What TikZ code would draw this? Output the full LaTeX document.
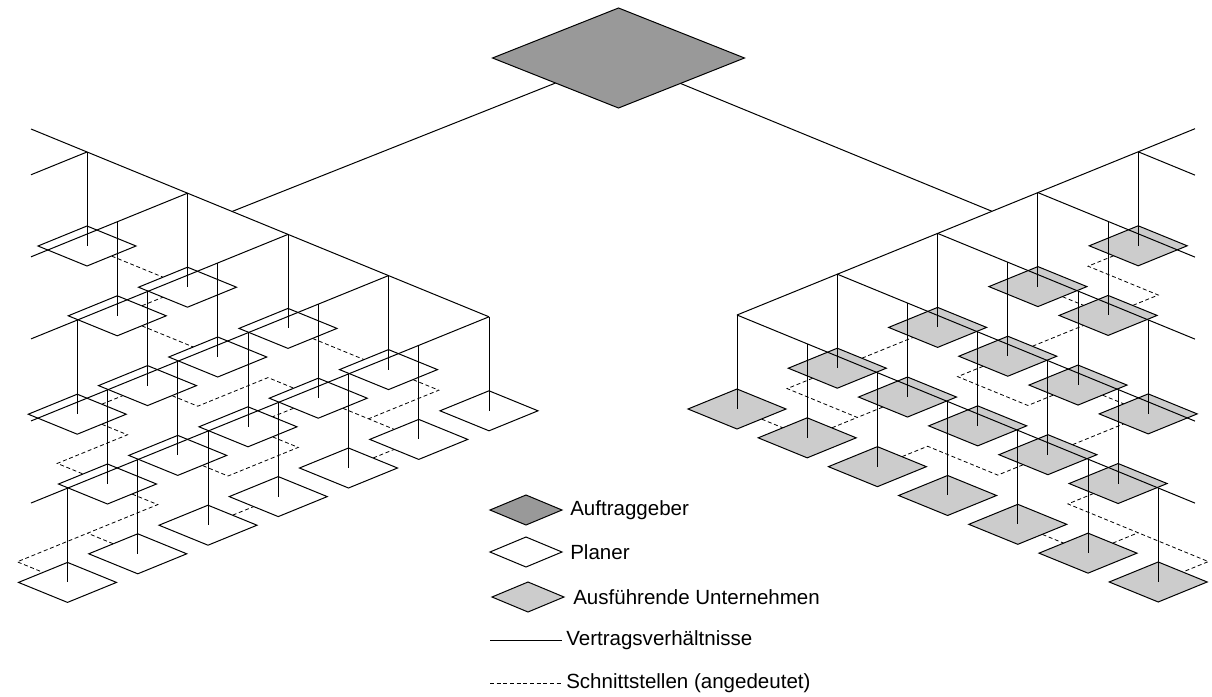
\documentclass[tikz,border=0pt]{standalone}
\usepackage{fontspec}
\setmainfont{Liberation Sans}
\usetikzlibrary{shapes.geometric}
\definecolor{agfill}{RGB}{153,153,153}
\definecolor{firmfill}{RGB}{204,204,204}
\begin{document}
\begin{tikzpicture}[x=0.75pt,y=-0.75pt,
  beam/.style={line width=0.75pt, black},
  iface/.style={line width=0.6pt, black, dash pattern=on 3pt off 2pt},
  box/.style={diamond, draw=black, line width=0.75pt, inner sep=0pt, outer sep=0pt, minimum width=73.5pt, minimum height=30pt},
  planer/.style={box, fill=white},
  firm/.style={box, fill=firmfill},
  client/.style={diamond, draw=black, line width=0.75pt, fill=agfill, inner sep=0pt, outer sep=0pt},
  legbox/.style={minimum width=54pt, minimum height=22.5pt},
  legtext/.style={anchor=west, inner sep=0pt, font=\fontsize{15.4pt}{18pt}\selectfont}
]
\useasboundingbox (0,0) rectangle (1212,696);

% ---------- grid coordinates (tops of drops and diamond centres)
\foreach \k/\n in {0/0,1/1,2/3,3/4,4/6}{
  \foreach \j in {0,...,\n}{
    \coordinate (LT\k\j) at ({87+100.5*\k-70.25*\j},{152+41.2*\k+28.6*\j});
    \coordinate (L\k\j) at ({87+100.5*\k-70.25*\j},{246+41.2*\k+28.6*\j});
  }
}
\foreach \k/\n in {0/6,1/4,2/3,3/1,4/0}{
  \foreach \j in {0,...,\n}{
    \coordinate (RT\k\j) at ({737+100.3*\k+70.2*\j},{315-40.8*\k+28.83*\j});
    \coordinate (R\k\j) at ({737+100.3*\k+70.2*\j},{409-40.8*\k+28.83*\j});
  }
}
\foreach \k in {0,...,4}{
  \coordinate (LE\k) at ({31},{152+41.2*\k+(56+100.5*\k)*0.4066});
  \coordinate (RE\k) at ({1195},{315-40.8*\k+(458-100.3*\k)*0.4107});
}
\coordinate (LS) at (31,129);
\coordinate (RS) at (1195,128.7);
\coordinate (LJ) at (232,211.5);
\coordinate (RJ) at (992,211.3);

% ---------- interfaces (dashed), left
\draw[iface] (L00) -- (L10);
\draw[iface] (L11) -- (L10);
\draw[iface] (L11) -- (L21);
\draw[iface] (L23) -- (L22);
\draw[iface] (L22) -- ++(50.25,20.6) -- ++(70.25,-28.6) -- (L31);
\draw[iface] (L23) -- ++(50.25,20.6) -- ++(-70.25,28.6) -- (L34);
\draw[iface] (L34) -- ++(50.25,20.6) -- ++(-140.5,57.2) -- (L46);
\draw[iface] (L45) -- ++(-50.25,-20.6);
\draw[iface] (L44) -- (L43);
\draw[iface] (L32) -- ++(50.25,20.6) -- ++(-70.25,28.6) -- (L33);
\draw[iface] (L20) -- (L30);
\draw[iface] (L31) -- (L32);
\draw[iface] (L30) -- ++(50.25,20.6) -- ++(-70.25,28.6);
\draw[iface] (L31) -- (L41);
\draw[iface] (L42) -- (L41);
% right
\draw[iface] (R00) -- (R01);
\draw[iface] (R10) -- (R20);
\draw[iface] (R10) -- ++(-50.15,20.4) -- ++(70.2,28.83) -- (R11);
\draw[iface] (R01) -- ++(50.15,-20.4);
\draw[iface] (R02) -- ++(50.15,-20.4) -- ++(70.2,28.83) -- (R13);
\draw[iface] (R21) -- ++(-50.15,20.4) -- ++(70.2,28.83) -- (R22);
\draw[iface] (R40) -- ++(-50.15,20.4) -- ++(70.2,28.83) -- (R31);
\draw[iface] (R30) -- (R31);
\draw[iface] (R21) -- (R31);
\draw[iface] (R22) -- (R23);
\draw[iface] (R13) -- (R23);
\draw[iface] (R14) -- ++(-50.15,20.4) -- ++(140.4,57.66) -- (R06);
\draw[iface] (R05) -- ++(50.15,-20.4);
\draw[iface] (R04) -- (R05);

% ---------- diamonds
\foreach \k/\n in {0/0,1/1,2/3,3/4,4/6}{
  \foreach \j in {0,...,\n}{ \node[planer] (PL\k\j) at (L\k\j) {}; }
}
\foreach \k/\n in {0/6,1/4,2/3,3/1,4/0}{
  \foreach \j in {0,...,\n}{ \node[firm] (FR\k\j) at (R\k\j) {}; }
}
\node[client, minimum width=189pt, minimum height=75pt] (AG) at (618.5,58) {};

% ---------- contract lines
\draw[beam] (AG) -- (LJ);
\draw[beam] (AG) -- (RJ);
\draw[beam] (LS) -- (LT40);
\draw[beam] (RT00) -- (RS);
\foreach \k in {0,...,4}{
  \draw[beam] (LT\k0) -- (LE\k);
  \draw[beam] (RT\k0) -- (RE\k);
}
\foreach \k/\n in {0/0,1/1,2/3,3/4,4/6}{
  \foreach \j in {0,...,\n}{ \draw[beam] (LT\k\j) -- (PL\k\j.center); }
}
\foreach \k/\n in {0/6,1/4,2/3,3/1,4/0}{
  \foreach \j in {0,...,\n}{ \draw[beam] (RT\k\j) -- (FR\k\j.center); }
}

% ---------- legend
\node[client, legbox] (kAG) at (526,510) {};
\node[legtext] (tAG) at (570,510) {Auftraggeber};
\node[planer, legbox] (kPL) at (526,552) {};
\node[legtext] (tPL) at (570,552) {Planer};
\node[firm, legbox] (kFI) at (528,597) {};
\node[legtext] (tFI) at (573,597) {Ausführende Unternehmen};
\coordinate (v1) at (490,640);
\coordinate (v2) at (562,640);
\draw[beam] (v1) -- (v2);
\node[legtext] (tV) at (566,640) {Vertragsverhältnisse};
\coordinate (s1) at (490,683);
\coordinate (s2) at (562,683);
\draw[iface] (s1) -- (s2);
\node[legtext] (tS) at (566,683) {Schnittstellen (angedeutet)};
\end{tikzpicture}
\end{document}
